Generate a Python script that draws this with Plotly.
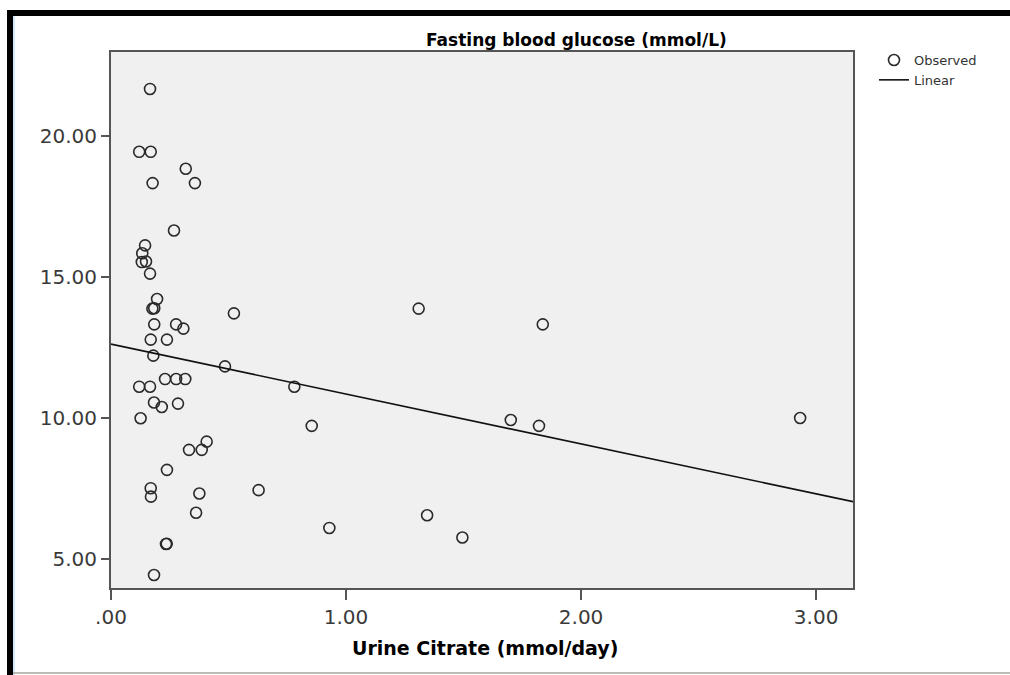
import plotly.graph_objects as go

# ---- data ----
urine_citrate = [0.166, 0.120, 0.169, 0.318, 0.177, 0.357, 0.268, 0.145, 0.133, 0.131,
                 0.149, 0.166, 0.196, 0.176, 0.184, 0.523, 0.184, 0.277, 0.308, 0.169,
                 0.238, 0.180, 0.485, 0.230, 0.277, 0.316, 0.120, 0.166, 0.183, 0.216,
                 0.285, 0.126, 0.407, 0.332, 0.386, 0.238, 0.169, 0.170, 0.376, 0.362,
                 0.234, 0.237, 0.183, 0.628, 0.780, 0.854, 0.929, 1.309, 1.837, 1.701,
                 1.821, 2.932, 1.345, 1.495]
fasting_glucose = [21.67, 19.44, 19.44, 18.84, 18.33, 18.33, 16.65, 16.12, 15.84, 15.53,
                   15.55, 15.12, 14.22, 13.88, 13.89, 13.71, 13.32, 13.32, 13.17, 12.78,
                   12.78, 12.21, 11.83, 11.38, 11.38, 11.38, 11.11, 11.11, 10.55, 10.39,
                   10.51, 9.99, 9.16, 8.87, 8.87, 8.16, 7.51, 7.21, 7.32, 6.64,
                   5.53, 5.54, 4.43, 7.44, 11.11, 9.72, 6.10, 13.88, 13.32, 9.93,
                   9.72, 10.00, 6.55, 5.76]
fit_intercept = 12.62
fit_slope = -1.77

x_tick_vals = [0, 1, 2, 3]
x_tick_text = [".00", "1.00", "2.00", "3.00"]
y_tick_vals = [5, 10, 15, 20]
y_tick_text = ["5.00", "10.00", "15.00", "20.00"]
x_range = [0, 3.157]
y_range = [3.97, 22.98]

chart_title = "Fasting blood glucose (mmol/L)"
x_title = "Urine Citrate (mmol/day)"

# ---- layout geometry (pixels) ----
W, H = 1010, 675
L, R, T, B = 111, 853, 52, 588


def px(x):
    return (x - L) / (R - L)


def py(y):
    return (B - y) / (B - T)


fit_x = list(x_range)
fit_y = [fit_intercept + fit_slope * v for v in fit_x]

fig = go.Figure()
fig.add_trace(go.Scatter(
    x=urine_citrate, y=fasting_glucose, mode="markers", name="Observed",
    marker=dict(symbol="circle-open", size=11, color="#2a2a2a",
                line=dict(width=1.6, color="#2a2a2a")),
))
fig.add_trace(go.Scatter(
    x=fit_x, y=fit_y, mode="lines", name="Linear",
    line=dict(color="#111111", width=1.6),
))

axis_common = dict(
    showgrid=False, zeroline=False, showline=True, mirror=True,
    linecolor="#555555", linewidth=2, ticks="outside", tickcolor="#555555",
    tickwidth=2, tickfont=dict(family="DejaVu Sans", size=20, color="#3a3a3a"),
)

fig.update_layout(
    width=W, height=H,
    margin=dict(l=L, r=W - R, t=T, b=H - B),
    paper_bgcolor="white", plot_bgcolor="#f0f0f0",
    showlegend=True,
    legend=dict(x=px(874), y=py(45), xanchor="left", yanchor="top",
                bgcolor="rgba(0,0,0,0)", borderwidth=0,
                font=dict(family="DejaVu Sans", size=13, color="#333333"),
                itemwidth=30, tracegroupgap=0),
    xaxis=dict(range=x_range, tickvals=x_tick_vals, ticktext=x_tick_text,
               ticklen=10, **axis_common),
    yaxis=dict(range=y_range, tickvals=y_tick_vals, ticktext=y_tick_text,
               ticklen=8, **axis_common),
    annotations=[
        dict(text=chart_title, xref="paper", yref="paper", x=px(576), y=py(40),
             xanchor="center", yanchor="middle", showarrow=False,
             font=dict(family="DejaVu Sans", size=17, color="black", weight="bold")),
        dict(text=x_title, xref="paper", yref="paper", x=px(485), y=py(648),
             xanchor="center", yanchor="middle", showarrow=False,
             font=dict(family="DejaVu Sans", size=19, color="black", weight="bold")),
    ],
    shapes=[
        dict(type="rect", xref="paper", yref="paper", x0=px(7), x1=px(1012),
             y0=py(16), y1=py(10), fillcolor="black", line=dict(width=0), layer="above"),
        dict(type="rect", xref="paper", yref="paper", x0=px(7), x1=px(13),
             y0=py(677), y1=py(10), fillcolor="black", line=dict(width=0), layer="above"),
        dict(type="line", xref="paper", yref="paper", x0=px(14), x1=px(14),
             y0=py(677), y1=py(16), line=dict(color="#c4e0f6", width=1.5), layer="above"),
        dict(type="line", xref="paper", yref="paper", x0=px(13), x1=px(1012),
             y0=py(673), y1=py(673), line=dict(color="#a4a49c", width=1.5), layer="above"),
    ],
)

fig.write_html("out.html", config={"displayModeBar": False},
               post_script="document.body.style.margin='0';document.body.style.overflow='hidden';")
